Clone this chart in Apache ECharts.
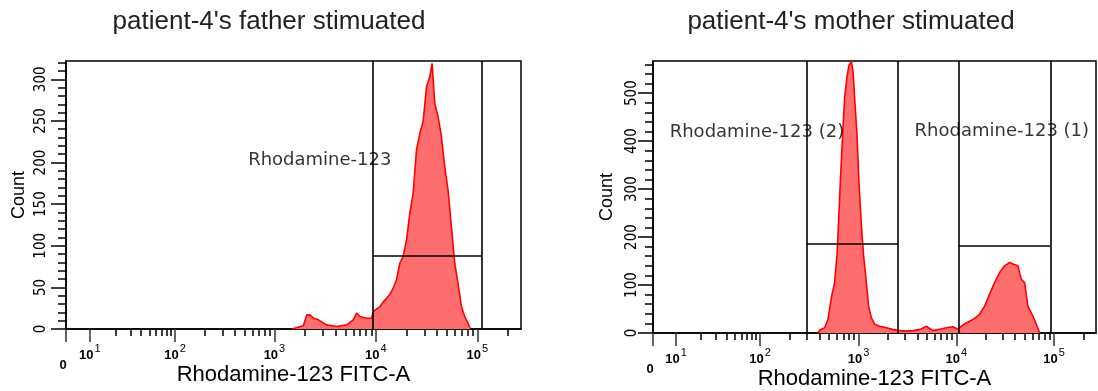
<!DOCTYPE html>
<html><head><meta charset="utf-8">
<script src="https://cdn.jsdelivr.net/npm/echarts@6/dist/echarts.min.js"></script>
<style>html,body{margin:0;padding:0;background:#fff}#c{width:1098px;height:391px}</style>
</head><body><div id="c"></div>
<script>
const titles = ["patient-4's father stimuated", "patient-4's mother stimuated"];
const xAxisName = 'Rhodamine-123 FITC-A';
const yAxisName = 'Count';
// tick labels and their display positions (decade units of the biexponential axis)
const xTickLabels = ['0', '10^1', '10^2', '10^3', '10^4', '10^5'];
const leftTickPos = [0.946, 1.18, 2.02, 3, 4, 5];
const rightTickPos = [0.895, 1.13, 1.99, 3, 4, 5];
const xMax = 5.43;
const leftYMax = 322, rightYMax = 567;
const leftYStep = 50, rightYStep = 100;
const leftYMinorStep = 10, rightYMinorStep = 20;

// father histogram
const leftX = [3.171,3.285,3.319,3.351,3.384,3.433,3.515,3.614,3.712,3.777,3.81,3.843,3.909,3.958,3.974,4.005,4.039,4.07,4.105,4.14,4.17,4.203,4.236,4.268,4.302,4.334,4.367,4.4,4.433,4.465,4.499,4.531,4.554,4.58,4.613,4.646,4.678,4.711,4.744,4.777,4.809,4.843,4.875,4.908,4.931];
const leftCount = [0,4,17,17,13,11,5,3,5,11,19,15,13,13,21,24,27,32,37,42,49,59,79,87,107,139,163,215,235,249,291,303,319,271,255,231,195,167,123,79,55,27,15,7,0];

// mother histogram
const rightX = [2.583,2.601,2.652,2.686,2.721,2.754,2.778,2.798,2.813,2.833,2.857,2.88,2.901,2.925,2.942,2.959,2.983,3.003,3.028,3.051,3.079,3.102,3.13,3.164,3.215,3.284,3.351,3.42,3.488,3.556,3.624,3.693,3.76,3.829,3.898,3.965,4.016,4.051,4.102,4.17,4.238,4.29,4.341,4.392,4.443,4.494,4.546,4.579,4.63,4.665,4.699,4.733,4.784,4.819,4.853];
const rightCount = [0,6,11,28,74,105,161,246,316,400,491,533,558,565,547,491,414,316,225,161,105,56,32,18,14,11,7,5,4,5,7,14,5,8,11,13,8,14,21,28,39,56,81,105,126,140,147,144,140,112,105,56,35,18,0];

// gates: [x start, x end, horizontal line count]
const leftGates = [[3.968, 5.039, 88]];
const rightGates = [[2.471, 3.402, 186], [4.027, 4.962, 181]];
// gate labels: [x, count, text]
const leftGateLabels = [[2.741, 203, 'Rhodamine-123']];
const rightGateLabels = [[1.066, 418, 'Rhodamine-123 (2)'], [3.573, 421, 'Rhodamine-123 (1)']];

const NARROW = '"Liberation Sans Narrow","DejaVu Sans Condensed","Liberation Sans",sans-serif';
const SANS = '"Liberation Sans",Arial,sans-serif';

function minorTicks(pos, max) {
  const out = [];
  for (let k = 1; k < pos.length - 1; k++) {
    const a = pos[k], b = pos[k + 1];
    for (let m = 2; m <= 9; m++) out.push(a + (b - a) * Math.log10(m));
  }
  const last = pos[pos.length - 1];
  for (let m = 2; m <= 9; m++) { const v = last + Math.log10(m); if (v < max) out.push(v); }
  return out;
}
function range(step, max) { const o = []; for (let v = 0; v <= max; v += step) o.push(v); return o; }

function labelFor(pos) {
  return function (v) {
    let best = 0, d = 1e9;
    pos.forEach((p, i) => { if (Math.abs(p - v) < d) { d = Math.abs(p - v); best = i; } });
    const t = xTickLabels[best];
    if (t === '0') return '{z|0}';
    const parts = t.split('^');
    return '{b|' + parts[0] + '}{s|' + parts[1] + '}';
  };
}

const rich = {
  b: { fontSize: 13, fontFamily: SANS, color: '#000', fontWeight: 'bold' },
  s: { fontSize: 11, fontFamily: SANS, color: '#000', padding: [0, 0, 14, 1] },
  z: { fontSize: 13, fontFamily: SANS, color: '#000', fontWeight: 'bold', padding: [16, 6, 0, 0] }
};

function xAxes(gridIndex, pos) {
  const min = pos[0];
  return [{
    type: 'value', gridIndex, min, max: xMax, position: 'bottom',
    name: xAxisName, nameLocation: 'middle', nameGap: 35, nameMoveOverlap: false,
    nameTextStyle: { fontSize: 22, fontFamily: SANS, color: '#000' },
    axisLine: { show: true, onZero: false, lineStyle: { color: '#000', width: 1.5 } },
    axisTick: { show: true, length: 13, customValues: pos, lineStyle: { color: '#333', width: 1.5 } },
    axisLabel: { show: true, customValues: pos, margin: 14, formatter: labelFor(pos), rich },
    splitLine: { show: false }
  }, {
    type: 'value', gridIndex, min, max: xMax, position: 'bottom',
    axisLine: { show: false },
    axisTick: { show: true, length: 7, customValues: minorTicks(pos, xMax), lineStyle: { color: '#000', width: 1.5 } },
    axisLabel: { show: false }, splitLine: { show: false }
  }];
}
function yAxes(gridIndex, max, step, minorStep, margin, nameGap) {
  return [{
    type: 'value', gridIndex, min: 0, max, position: 'left',
    name: yAxisName, nameLocation: 'middle', nameGap, nameMoveOverlap: false,
    nameTextStyle: { fontSize: 18, fontFamily: SANS, color: '#000' },
    axisLine: { show: true, onZero: false, lineStyle: { color: '#000', width: 1.5 } },
    axisTick: { show: true, length: 15, customValues: range(step, max), lineStyle: { color: '#000', width: 1.5 } },
    axisLabel: { show: true, customValues: range(step, max), rotate: 90, margin,
      fontSize: 15, fontFamily: NARROW, color: '#000' },
    splitLine: { show: false }
  }, {
    type: 'value', gridIndex, min: 0, max, position: 'left',
    axisLine: { show: false },
    axisTick: { show: true, length: 8, customValues: range(minorStep, max), lineStyle: { color: '#000', width: 1.5 } },
    axisLabel: { show: false }, splitLine: { show: false }
  }];
}

function histSeries(xi, yi, xs, ys, gates, ymax) {
  const segs = [];
  gates.forEach(g => {
    segs.push([{ coord: [g[0], 0] }, { coord: [g[0], ymax] }]);
    segs.push([{ coord: [g[1], 0] }, { coord: [g[1], ymax] }]);
    segs.push([{ coord: [g[0], g[2]] }, { coord: [g[1], g[2]] }]);
  });
  return {
    type: 'line', xAxisIndex: xi, yAxisIndex: yi,
    data: xs.map((x, i) => [x, ys[i]]),
    showSymbol: false, symbol: 'none', animation: false,
    lineStyle: { color: '#ff0000', width: 1.6 },
    areaStyle: { color: '#ff6e6e', opacity: 1 },
    markLine: { symbol: 'none', silent: true, animation: false, label: { show: false },
      lineStyle: { color: '#000', width: 1.6, type: 'solid' }, data: segs }
  };
}
function labelSeries(xi, yi, labels) {
  return {
    type: 'scatter', xAxisIndex: xi, yAxisIndex: yi, symbolSize: 0, animation: false, z: 5,
    data: labels.map(l => ({ value: [l[0], l[1]], name: l[2] })),
    label: { show: true, position: 'right', distance: 0, formatter: p => p.name,
      fontSize: 18, fontFamily: '"DejaVu Sans",sans-serif', color: '#000' }
  };
}

const chart = echarts.init(document.getElementById('c'), null, { renderer: 'canvas' });
const gridBase = { show: true, borderColor: '#000', borderWidth: 1.5, backgroundColor: 'transparent', containLabel: false, outerBoundsMode: 'none' };
chart.setOption({
  backgroundColor: '#fff',
  animation: false,
  title: [
    { text: titles[0], left: 264, top: 4, textAlign: 'center', textStyle: { fontSize: 26, fontWeight: 'normal', fontFamily: SANS, color: '#222' } },
    { text: titles[1], left: 846, top: 4, textAlign: 'center', textStyle: { fontSize: 26, fontWeight: 'normal', fontFamily: SANS, color: '#222' } }
  ],
  grid: [
    Object.assign({ left: 66, right: 577, top: 61, bottom: 62 }, gridBase),
    Object.assign({ left: 653, right: 2, top: 61, bottom: 58 }, gridBase)
  ],
  xAxis: [...xAxes(0, leftTickPos), ...xAxes(1, rightTickPos)],
  yAxis: [...yAxes(0, leftYMax, leftYStep, leftYMinorStep, 17, 38), ...yAxes(1, rightYMax, rightYStep, rightYMinorStep, 13, 37)],
  series: [
    histSeries(0, 0, leftX, leftCount, leftGates, leftYMax),
    labelSeries(0, 0, leftGateLabels),
    histSeries(2, 2, rightX, rightCount, rightGates, rightYMax),
    labelSeries(2, 2, rightGateLabels)
  ]
});
</script></body></html>
